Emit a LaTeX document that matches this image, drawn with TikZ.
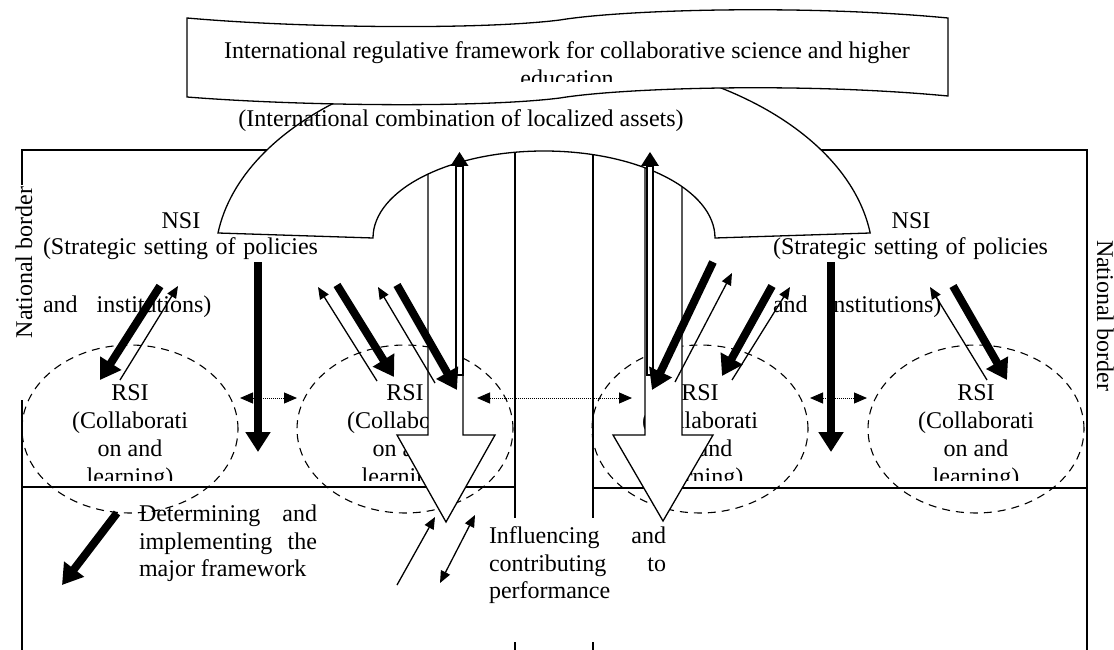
\documentclass[tikz,border=0pt]{standalone}
\usepackage{fontspec}
\setmainfont{Liberation Serif}
\usetikzlibrary{arrows.meta,shapes.geometric}
\begin{document}
\begin{tikzpicture}[x=1pt,y=-1pt,
  txt/.style={inner sep=0pt,outer sep=0pt,font=\fontsize{24}{28}\selectfont},
  frame/.style={line width=1.3pt},
  region/.style={ellipse,draw,line width=1.1pt,dash pattern=on 8pt off 6pt,minimum width=216pt,minimum height=168pt,inner sep=0pt},
  boldarrow/.style={line width=8pt,-{Triangle[length=20pt,width=24pt]}},
  thinarrow/.style={line width=1.3pt,-{Triangle[length=12pt,width=10pt]}},
  thinboth/.style={line width=1.3pt,{Triangle[length=12pt,width=10pt]}-{Triangle[length=12pt,width=10pt]}},
  dotlink/.style={line width=1pt,dash pattern=on 1pt off 1pt,{Triangle[length=13pt,width=11pt]}-{Triangle[length=13pt,width=11pt]}},
  shapeline/.style={fill=white,draw,line width=1.3pt,line join=miter},
]
\useasboundingbox (0,0) rectangle (1114,650);
% ---------- frame lines ----------
\draw[frame] (22,185) -- (22,150) -- (400,150);
\draw[frame] (700,150) -- (1087,150) -- (1087,650);
\draw[frame] (22,400) -- (22,650);
\draw[frame] (22,487) -- (515,487);
\draw[frame] (593,488) -- (1087,488);
\draw[frame] (515,140) -- (515,518);
\draw[frame] (593,140) -- (593,518);
\draw[frame] (515,642) -- (515,650);
\draw[frame] (593,642) -- (593,650);
% ---------- RSI regions ----------
\node[region] (rsi1) at (130,429) {};
\node[region] (rsi2) at (405,429) {};
\node[region] (rsi3) at (700,429) {};
\node[region] (rsi4) at (976,429) {};
\begin{scope}
\clip (0,0) rectangle (1114,480);
\foreach \n/\x in {1/130,2/405,3/700,4/976}{
  \node[txt,anchor=base] (rsiA\n) at (\x,400) {RSI};
  \node[txt,anchor=base] (rsiB\n) at (\x,428) {(Collaborati};
  \node[txt,anchor=base] (rsiC\n) at (\x,456) {on and};
  \node[txt,anchor=base] (rsiD\n) at (\x,484) {learning)};
}
\end{scope}
% ---------- block arrows ----------
\path[shapeline] (428,140) -- (428,435) -- (397,435) -- (446,522) -- (495,435) -- (463,435) -- (463,140) -- cycle;
\path[shapeline] (645,140) -- (645,435) -- (613,435) -- (663,521) -- (713,435) -- (682,435) -- (682,140) -- cycle;
% ---------- arch ----------
\path[shapeline] (218,233) arc[start angle=187.6,end angle=352.4,x radius=329,y radius=204]
  -- (715,238) arc[start angle=0,end angle=-180,x radius=171,y radius=87] -- cycle;
% ---------- banner ----------
\path[shapeline] (187,18) .. controls (300,28) and (480,30) .. (560,20)
  .. controls (620,10) and (800,4) .. (948,18) -- (948,96)
  .. controls (800,82) and (620,88) .. (560,98)
  .. controls (480,108) and (300,106) .. (187,97) -- cycle;
\begin{scope}
\clip (187,0) rectangle (948,82);
\node[txt,anchor=base] (ban1) at (567,59) {International regulative framework for collaborative science and higher};
\node[txt,anchor=base] (ban2) at (567,87) {education};
\end{scope}
\node[txt,anchor=base] (comb) at (461,127) {(International combination of localized assets)};
% ---------- NSI texts ----------
\node[txt,anchor=base] (nsiL1) at (181,228) {NSI};
\node[txt,anchor=base west] (nsiL2) at (43,254) {\makebox[275pt][s]{(Strategic setting of policies}};
\node[txt,anchor=base west] (nsiL3) at (43,312) {and\hspace{19pt}institutions)};
\node[txt,anchor=base] (nsiR1) at (911,228) {NSI};
\node[txt,anchor=base west] (nsiR2) at (773,254) {\makebox[275pt][s]{(Strategic setting of policies}};
\node[txt,anchor=base west] (nsiR3) at (773,312) {and\hspace{19pt}institutions)};
% ---------- thin up arrows in the block arrows ----------
\path[shapeline,line width=1.1pt] (456,166) rectangle (463,375);
\fill (450.5,166) -- (468.5,166) -- (459.5,152) -- cycle;
\path[shapeline,line width=1.1pt] (647,166) rectangle (653,375);
\fill (641,166) -- (659,166) -- (650,152) -- cycle;
% ---------- coordinates for connectors ----------
\coordinate (T1a) at (160,286); \coordinate (T1b) at (100,380);
\coordinate (T2a) at (337,285); \coordinate (T2b) at (394,377);
\coordinate (T3a) at (397,285); \coordinate (T3b) at (457,390);
\coordinate (T4a) at (713,262); \coordinate (T4b) at (652,390);
\coordinate (T5a) at (772,286); \coordinate (T5b) at (722,376);
\coordinate (T6a) at (953,286); \coordinate (T6b) at (1007,380);
\coordinate (V1a) at (258,262); \coordinate (V1b) at (258,452);
\coordinate (V2a) at (831,262); \coordinate (V2b) at (831,452);
\coordinate (t1a) at (120,380); \coordinate (t1b) at (178,286);
\coordinate (t2a) at (377,381); \coordinate (t2b) at (318,287);
\coordinate (t3a) at (435,383); \coordinate (t3b) at (378,287);
\coordinate (t4a) at (675,382); \coordinate (t4b) at (732,273);
\coordinate (t5a) at (732,380); \coordinate (t5b) at (790,287);
\coordinate (t6a) at (987,380); \coordinate (t6b) at (930,287);
\coordinate (d1a) at (240,398); \coordinate (d1b) at (297,398);
\coordinate (d2a) at (477,398); \coordinate (d2b) at (632,398);
\coordinate (d3a) at (810,398); \coordinate (d3b) at (867,398);
\coordinate (Ga) at (117,513); \coordinate (Gb) at (62,585);
\coordinate (ua) at (397,585); \coordinate (ub) at (435,517);
\coordinate (wa) at (440,583); \coordinate (wb) at (475,515);
% ---------- thick arrows ----------
\foreach \k in {T1,T2,T3,T4,T5,T6,V1,V2,G}{\draw[boldarrow] (\k a) -- (\k b);}
% ---------- thin arrows ----------
\foreach \k in {t1,t2,t3,t4,t5,t6,u}{\draw[thinarrow] (\k a) -- (\k b);}
\draw[thinboth] (wa) -- (wb);
% ---------- dotted links ----------
\foreach \k in {d1,d2,d3}{\draw[dotlink] (\k a) -- (\k b);}
% ---------- legend texts ----------
\node[txt,anchor=base west] (leg1) at (139,521) {\makebox[178pt][s]{Determining and}};
\node[txt,anchor=base west] (leg2) at (139,549) {\makebox[178pt][s]{implementing the}};
\node[txt,anchor=base west] (leg3) at (139,576) {major framework};
\node[txt,anchor=base west] (inf1) at (489,543) {\makebox[177pt][s]{Influencing and}};
\node[txt,anchor=base west] (inf2) at (489,571) {\makebox[177pt][s]{contributing to}};
\node[txt,anchor=base west] (inf3) at (489,598) {performance};
% ---------- national border labels ----------
\node[txt,anchor=base west,rotate=90] (nbL) at (32,338) {National border};
\node[txt,anchor=base west,rotate=-90] (nbR) at (1097,240) {National border};
\end{tikzpicture}
\end{document}
